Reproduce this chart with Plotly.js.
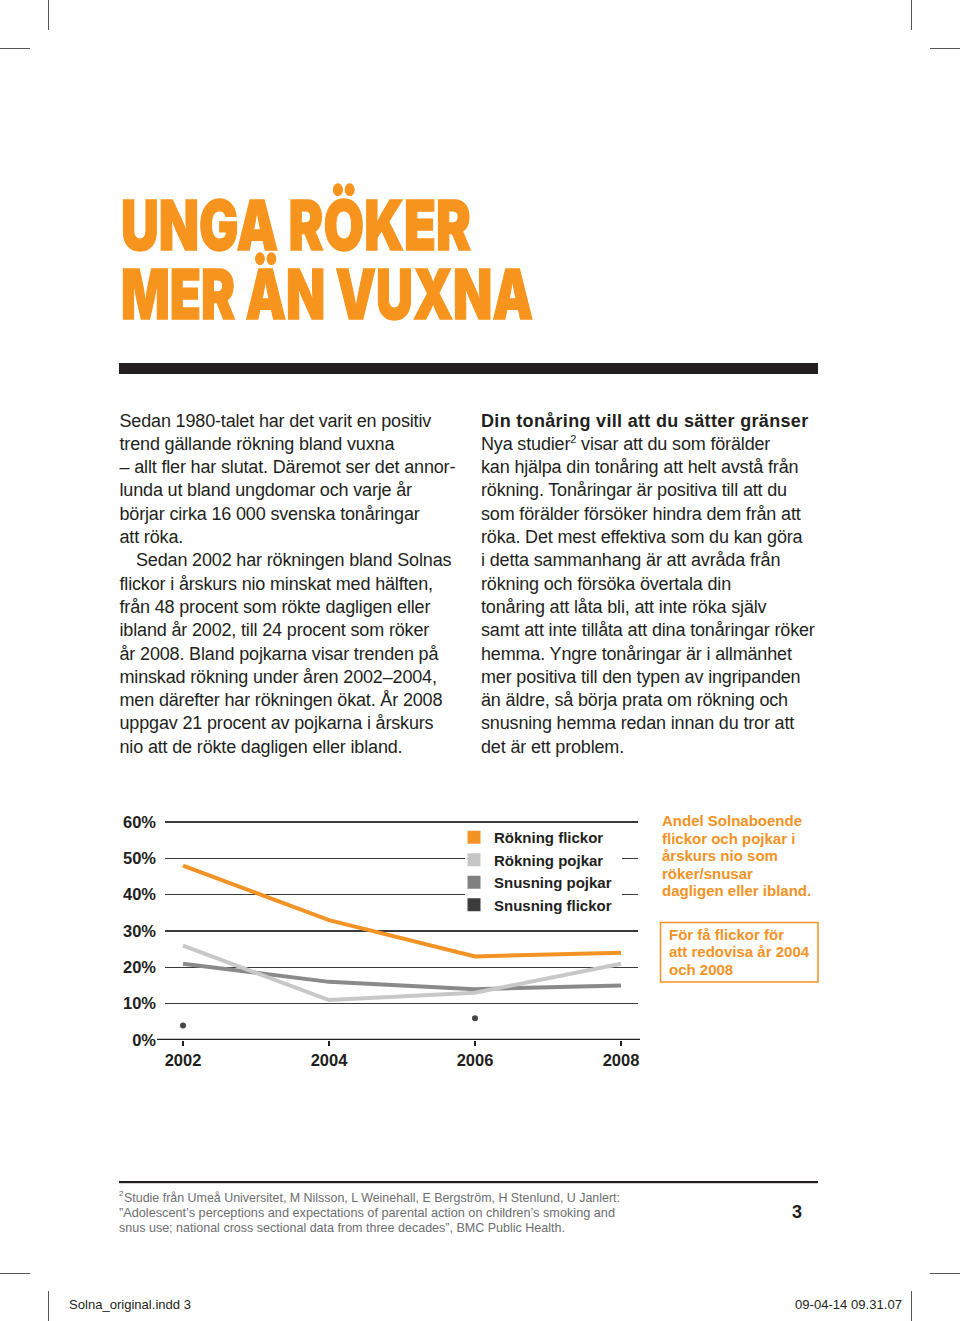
<!DOCTYPE html>
<html lang="sv">
<head>
<meta charset="utf-8">
<script src="https://cdn.plot.ly/plotly-3.0.1.min.js"></script>
<style>
  html, body { margin: 0; padding: 0; background: #fff; }
  #page { position: relative; width: 960px; height: 1321px; overflow: hidden; background: #fff; }
  #bg { position: absolute; left: 0; top: 0; }
  #chart { position: absolute; left: 110px; top: 795px; width: 720px; height: 290px; }
  .body { font-family: "Liberation Sans", Arial, Helvetica, sans-serif; font-size: 18px; fill: #231f20; letter-spacing: -0.16px; }
  .bold { font-weight: bold; }
  .foot { font-family: "Liberation Sans", Arial, sans-serif; font-size: 13px; fill: #6d6e70; }
  .slug { font-family: "Liberation Sans", Arial, sans-serif; font-size: 13px; fill: #231f20; }
  .title { font-family: "Inter", "Liberation Sans", Arial, sans-serif; font-weight: 900; font-size: 69px; fill: #f7941d; stroke: #f7941d; stroke-width: 1.4; }
</style>
</head>
<body>
<div id="page">
<svg id="bg" width="960" height="1321" xmlns="http://www.w3.org/2000/svg">
  <!-- crop marks -->
  <g stroke="#555" stroke-width="1">
    <line x1="48.5" y1="0" x2="48.5" y2="30"/>
    <line x1="0" y1="48.5" x2="30" y2="48.5"/>
    <line x1="911.5" y1="0" x2="911.5" y2="30"/>
    <line x1="930" y1="48.5" x2="960" y2="48.5"/>
    <line x1="0" y1="1273.5" x2="30" y2="1273.5"/>
    <line x1="930" y1="1273.5" x2="960" y2="1273.5"/>
    <line x1="48.5" y1="1291" x2="48.5" y2="1321"/>
    <line x1="911.5" y1="1291" x2="911.5" y2="1321"/>
  </g>
  <!-- title -->
  <text class="title"><tspan x="121" y="250" textLength="350" lengthAdjust="spacingAndGlyphs">UNGA RÖKER</tspan><tspan x="121" y="319" textLength="412" lengthAdjust="spacingAndGlyphs">MER ÄN VUXNA</tspan></text>
  <!-- black bar -->
  <rect x="119" y="363" width="699" height="11" fill="#231f20"/>
  <!-- left column -->
  <g class="body">
    <text x="119.5" y="426.5">Sedan 1980-talet har det varit en positiv</text>
    <text x="119.5" y="449.8">trend gällande rökning bland vuxna</text>
    <text x="119.5" y="473.1">– allt fler har slutat. Däremot ser det annor-</text>
    <text x="119.5" y="496.4">lunda ut bland ungdomar och varje år</text>
    <text x="119.5" y="519.7">börjar cirka 16 000 svenska tonåringar</text>
    <text x="119.5" y="543.0">att röka.</text>
    <text x="136" y="566.3">Sedan 2002 har rökningen bland Solnas</text>
    <text x="119.5" y="589.6">flickor i årskurs nio minskat med hälften,</text>
    <text x="119.5" y="612.9">från 48 procent som rökte dagligen eller</text>
    <text x="119.5" y="636.2">ibland år 2002, till 24 procent som röker</text>
    <text x="119.5" y="659.5">år 2008. Bland pojkarna visar trenden på</text>
    <text x="119.5" y="682.8">minskad rökning under åren 2002–2004,</text>
    <text x="119.5" y="706.1">men därefter har rökningen ökat. År 2008</text>
    <text x="119.5" y="729.4">uppgav 21 procent av pojkarna i årskurs</text>
    <text x="119.5" y="752.7">nio att de rökte dagligen eller ibland.</text>
  </g>
  <!-- right column -->
  <g class="body">
    <text class="bold" x="481" y="426.5" textLength="327">Din tonåring vill att du sätter gränser</text>
    <text x="481" y="449.8">Nya studier<tspan font-size="11" dy="-7">2</tspan><tspan dy="7"> visar att du som förälder</tspan></text>
    <text x="481" y="473.1">kan hjälpa din tonåring att helt avstå från</text>
    <text x="481" y="496.4">rökning. Tonåringar är positiva till att du</text>
    <text x="481" y="519.7">som förälder försöker hindra dem från att</text>
    <text x="481" y="543.0">röka. Det mest effektiva som du kan göra</text>
    <text x="481" y="566.3">i detta sammanhang är att avråda från</text>
    <text x="481" y="589.6">rökning och försöka övertala din</text>
    <text x="481" y="612.9">tonåring att låta bli, att inte röka själv</text>
    <text x="481" y="636.2">samt att inte tillåta att dina tonåringar röker</text>
    <text x="481" y="659.5">hemma. Yngre tonåringar är i allmänhet</text>
    <text x="481" y="682.8">mer positiva till den typen av ingripanden</text>
    <text x="481" y="706.1">än äldre, så börja prata om rökning och</text>
    <text x="481" y="729.4">snusning hemma redan innan du tror att</text>
    <text x="481" y="752.7">det är ett problem.</text>
  </g>
  <!-- footnote -->
  <rect x="119" y="1181" width="699" height="2.2" fill="#231f20"/>
  <g class="foot">
    <text x="119" y="1196" font-size="8">2</text>
    <text x="124" y="1201.5" textLength="496" lengthAdjust="spacingAndGlyphs">Studie från Umeå Universitet, M Nilsson, L Weinehall, E Bergström, H Stenlund, U Janlert:</text>
    <text x="119" y="1216.5" textLength="496" lengthAdjust="spacingAndGlyphs">”Adolescent’s perceptions and expectations of parental action on children’s smoking and</text>
    <text x="119" y="1231.5" textLength="446" lengthAdjust="spacingAndGlyphs">snus use; national cross sectional data from three decades”, BMC Public Health.</text>
  </g>
  <text x="792" y="1218" font-family="Liberation Sans, Arial, sans-serif" font-weight="bold" font-size="18" fill="#231f20">3</text>
  <!-- slug -->
  <text class="slug" x="69" y="1309" textLength="122" lengthAdjust="spacingAndGlyphs">Solna_original.indd   3</text>
  <text class="slug" x="795" y="1309" textLength="107" lengthAdjust="spacingAndGlyphs">09-04-14  09.31.07</text>
</svg>
<div id="chart"></div>
</div>
<script>
// ---- chart data ----
const years = [2002, 2004, 2006, 2008];
const rokningFlickor = [48, 33, 23, 24];
const rokningPojkar = [26, 11, 13, 21];
const snusningPojkar = [21, 16, 14, 15];
const snusningFlickor = [4, null, 6, null];
const seriesNames = ["Rökning flickor", "Rökning pojkar", "Snusning pojkar", "Snusning flickor"];
const yTickVals = [0, 10, 20, 30, 40, 50, 60];
const yTickText = ["0%", "10%", "20%", "30%", "40%", "50%", "60%"];
const xTickText = ["2002", "2004", "2006", "2008"];
const noteLines = ["Andel Solnaboende", "flickor och pojkar i", "årskurs nio som", "röker/snusar", "dagligen eller ibland."];
const boxLines = ["För få flickor för", "att redovisa år 2004", "och 2008"];

const ORANGE = "#f39325";
const colors = [ORANGE, "#c8c8c8", "#8a8a8a", "#464646"];
const legendColors = [ORANGE, "#c6c6c6", "#808080", "#3c3c3c"];

const traces = [
  { x: years, y: snusningPojkar, mode: "lines", line: { color: colors[2], width: 4 }, showlegend: false, name: seriesNames[2] },
  { x: years, y: rokningPojkar, mode: "lines", line: { color: colors[1], width: 4 }, showlegend: false, name: seriesNames[1] },
  { x: years, y: rokningFlickor, mode: "lines", line: { color: colors[0], width: 4 }, showlegend: false, name: seriesNames[0] },
  { x: years, y: snusningFlickor, mode: "markers", marker: { color: colors[3], size: 6, symbol: "circle" }, showlegend: false, name: seriesNames[3] }
];
// legend entries (square swatches)
seriesNames.forEach((n, i) => {
  traces.push({ x: [years[0]], y: [null], mode: "markers", name: n, showlegend: true,
    marker: { symbol: "square", size: 13, color: legendColors[i] } });
});

const FONT = "Liberation Sans, Arial, sans-serif";
const tickFont = { family: FONT, size: 16.5, color: "#231f20", weight: "bold" };
const orangeFont = { family: FONT, size: 15, color: ORANGE, weight: "bold" };

// geometry helpers (plot area: x 165..638 px, y 815..1040 px in page)
const px = v => (v - 165) / 473;
const py = v => (1040 - v) / 225;

const annotations = [];
const noteY = [820, 838, 855.5, 873, 890.5];
noteLines.forEach((t, i) => annotations.push({
  xref: "paper", yref: "paper", x: px(660), y: py(noteY[i]), xanchor: "left", yanchor: "middle",
  align: "left", showarrow: false, font: orangeFont, text: t
}));
const boxY = [934.5, 952, 969.5];
boxLines.forEach((t, i) => annotations.push({
  xref: "paper", yref: "paper", x: px(667), y: py(boxY[i]), xanchor: "left", yanchor: "middle",
  align: "left", showarrow: false, font: orangeFont, text: t
}));

const layout = {
  width: 720, height: 290,
  margin: { l: 55, r: 192, t: 20, b: 45 },
  paper_bgcolor: "rgba(0,0,0,0)",
  plot_bgcolor: "rgba(0,0,0,0)",
  showlegend: true,
  xaxis: {
    range: [2001.753, 2008.233],
    tickvals: years, ticktext: xTickText,
    showgrid: false, zeroline: false,
    showline: false,
    ticks: "outside", ticklen: 5, tickwidth: 2, tickcolor: "#231f20",
    tickfont: tickFont, fixedrange: true
  },
  yaxis: {
    range: [0, 61.93],
    tickvals: yTickVals, ticktext: yTickText,
    showgrid: true, gridcolor: "#3a3a3a", gridwidth: 1.1,
    zeroline: false,
    showline: false, ticks: "", ticklabelstandoff: 8,
    tickfont: tickFont, fixedrange: true
  },
  legend: {
    x: px(454), y: py(821), xanchor: "left", yanchor: "top",
    bgcolor: "rgba(0,0,0,0)", borderwidth: 0,
    font: { family: FONT, size: 15, color: "#231f20", weight: "bold" },
    tracegroupgap: 0, itemclick: false, itemdoubleclick: false
  },
  shapes: [
    // white panel behind the legend text, hiding the gridlines there
    { type: "rect", xref: "paper", yref: "paper", layer: "above",
      x0: px(465), x1: px(622), y0: py(916), y1: py(826),
      line: { width: 0 }, fillcolor: "#ffffff" },
    { type: "line", xref: "paper", yref: "y", x0: px(157), x1: px(640), y0: 0, y1: 0,
      line: { color: "#231f20", width: 2.6 } },
    { type: "rect", xref: "paper", yref: "paper", x0: px(660.5), x1: px(818), y0: py(982), y1: py(922.5),
      line: { color: ORANGE, width: 1.5 }, fillcolor: "rgba(0,0,0,0)" }
  ],
  annotations: annotations
};

Plotly.newPlot("chart", traces, layout, { staticPlot: true, displayModeBar: false });
</script>
</body>
</html>
